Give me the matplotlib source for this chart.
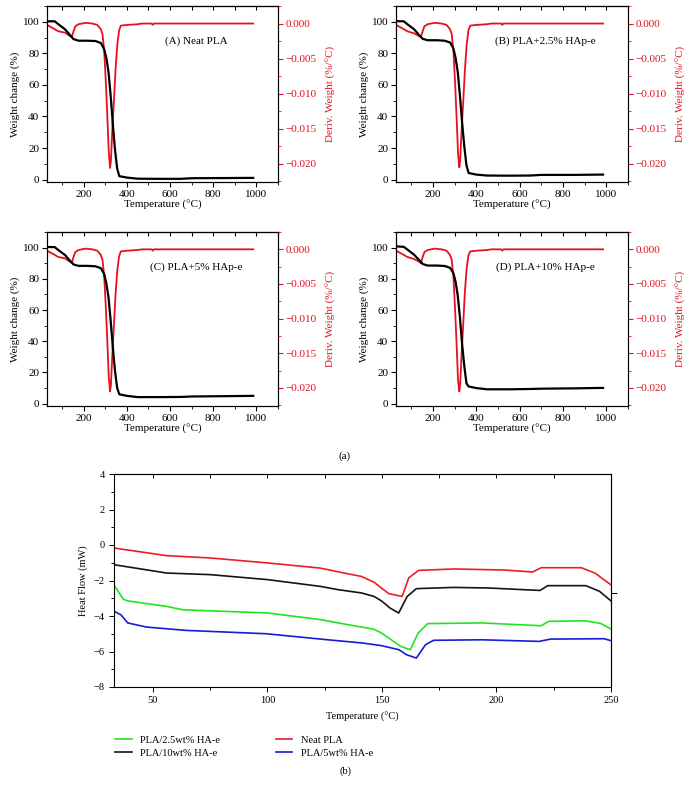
import numpy as np
import matplotlib
matplotlib.use("Agg")
import matplotlib.pyplot as plt
from matplotlib.ticker import MultipleLocator, FixedLocator

plt.rcParams['font.family'] = ['Liberation Serif', 'DejaVu Serif']
plt.rcParams['axes.unicode_minus'] = True

# ---------------- TGA data (a) ----------------
t_weight = [30, 66, 82, 113, 137, 153, 176, 220, 255, 280, 295, 305, 315, 325,
            335, 345, 355, 365, 400, 450, 550, 650, 700, 850, 985]
weight_A = [100.3, 100.3, 98.5, 95.3, 91.5, 89.0, 88.0, 88.0, 87.8, 86.5, 82.5, 77, 68, 53,
            35, 19, 7, 2.2, 1.3, 0.6, 0.5, 0.5, 0.9, 1.0, 1.1]
weight_B = [100.4, 100.3, 98.5, 95.3, 91.5, 89.2, 88.3, 88.3, 88.0, 86.8, 83.0, 77, 68, 53,
            36, 21, 9, 4.2, 3.2, 2.6, 2.5, 2.6, 3.0, 3.0, 3.2]
weight_C = [100.4, 100.3, 98.5, 95.3, 91.5, 89.2, 88.3, 88.3, 88.0, 86.8, 83.0, 77, 68, 53,
            36, 21, 10, 6.0, 5.0, 4.2, 4.2, 4.3, 4.6, 4.8, 5.0]
weight_D = [100.8, 100.5, 98.8, 95.5, 92.0, 89.5, 88.5, 88.5, 88.2, 87.0, 83.5, 78, 69, 55,
            38, 24, 13, 11.0, 10.0, 9.2, 9.2, 9.4, 9.6, 9.8, 10.1]

t_deriv = [30, 60, 82, 113, 137, 145, 153, 161, 176, 208, 240, 263, 279, 287, 295, 303,
           311, 316, 322, 326, 333, 340, 348, 356, 364, 372, 400, 450, 470, 515, 520, 525,
           600, 985]
deriv_A = [-0.0002, -0.0007, -0.0011, -0.0013, -0.0018, -0.0019, -0.0011, -0.0004, -0.0001,
           0.0001, 0.0000, -0.0002, -0.0008, -0.0015, -0.0039, -0.0087, -0.0144, -0.0182,
           -0.0206, -0.0196, -0.0149, -0.0110, -0.0063, -0.0029, -0.0010, -0.0003, -0.0002,
           -0.0001, 0.0000, 0.0000, -0.0002, 0.0000, 0.0000, 0.0000]
deriv_B = [-0.0002, -0.0007, -0.0011, -0.0014, -0.0018, -0.0019, -0.0011, -0.0004, -0.0001,
           0.0001, 0.0000, -0.0002, -0.0008, -0.0015, -0.0040, -0.0088, -0.0145, -0.0185,
           -0.0205, -0.0195, -0.0150, -0.0112, -0.0065, -0.0030, -0.0010, -0.0003, -0.0002,
           -0.0001, 0.0000, 0.0000, -0.0002, 0.0000, 0.0000, 0.0000]
deriv_C = [-0.0002, -0.0007, -0.0011, -0.0013, -0.0018, -0.0019, -0.0011, -0.0004, -0.0001,
           0.0001, 0.0000, -0.0002, -0.0008, -0.0015, -0.0039, -0.0087, -0.0144, -0.0184,
           -0.0205, -0.0196, -0.0150, -0.0110, -0.0063, -0.0029, -0.0010, -0.0003, -0.0002,
           -0.0001, 0.0000, 0.0000, -0.0002, 0.0000, 0.0000, 0.0000]
deriv_D = [-0.0002, -0.0007, -0.0011, -0.0014, -0.0018, -0.0020, -0.0011, -0.0004, -0.0001,
           0.0001, 0.0000, -0.0002, -0.0008, -0.0015, -0.0040, -0.0090, -0.0148, -0.0188,
           -0.0205, -0.0195, -0.0148, -0.0108, -0.0060, -0.0027, -0.0009, -0.0003, -0.0002,
           -0.0001, 0.0000, 0.0000, -0.0002, 0.0000, 0.0000, 0.0000]

panel_titles = ["(A) Neat PLA", "(B) PLA+2.5% HAp-e", "(C) PLA+5% HAp-e", "(D) PLA+10% HAp-e"]
weights = [weight_A, weight_B, weight_C, weight_D]
derivs = [deriv_A, deriv_B, deriv_C, deriv_D]

# ---------------- DSC data (b) ----------------
t_neat = [33, 56, 75, 100, 123, 133.5, 141, 146.6, 150, 153, 158.8, 161.7, 166, 181.4,
          203.3, 215.8, 219.5, 237, 243, 250]
hf_neat = [-0.17, -0.6, -0.73, -1.01, -1.3, -1.58, -1.77, -2.1, -2.45, -2.74, -2.9, -1.85,
           -1.43, -1.35, -1.41, -1.52, -1.28, -1.28, -1.58, -2.25]
t_10 = [33, 56, 75, 100, 123, 131, 141, 146.6, 150, 153.5, 157.3, 161, 165, 181, 196,
        219, 222.4, 239, 245, 250]
hf_10 = [-1.11, -1.58, -1.67, -1.95, -2.33, -2.52, -2.7, -2.9, -3.17, -3.55, -3.83, -2.9,
         -2.46, -2.39, -2.42, -2.56, -2.29, -2.29, -2.61, -3.15]
t_25 = [33, 37, 39, 56, 63, 100, 123, 133.5, 146.6, 149.8, 158.2, 162.4, 165.8, 170,
        193.5, 219.5, 222.8, 238.8, 245.5, 250]
hf_25 = [-2.24, -3.05, -3.15, -3.46, -3.65, -3.83, -4.2, -4.45, -4.75, -4.96, -5.71, -5.9,
         -4.96, -4.43, -4.39, -4.55, -4.3, -4.27, -4.42, -4.73]
t_5 = [33, 36, 39, 47, 64.3, 99.5, 126.3, 141.4, 149.8, 157.4, 160.7, 165, 169, 172.5,
       193.5, 218.6, 223.7, 247, 250]
hf_5 = [-3.73, -3.93, -4.39, -4.62, -4.81, -5.0, -5.34, -5.52, -5.67, -5.9, -6.18, -6.37,
        -5.62, -5.37, -5.34, -5.43, -5.3, -5.28, -5.39]

W, H = 691, 793
fig = plt.figure(figsize=(W / 100, H / 100), dpi=100)


def box(l, t, r, b):
    return [l / W, 1 - b / H, (r - l) / W, (b - t) / H]


red = "#e8101c"
fs = 8
panel_boxes = [box(47, 6, 278, 182), box(396, 6, 628, 182),
               box(47, 232, 278, 406), box(396, 232, 628, 406)]

for i in range(4):
    ax = fig.add_axes(panel_boxes[i])
    ax.plot(t_weight, weights[i], color="black", lw=1.6, zorder=3)
    ax.set_xlim(30, 1100)
    ax.set_ylim(-1.5, 110)
    ax.xaxis.set_major_locator(FixedLocator([200, 400, 600, 800, 1000]))
    ax.xaxis.set_minor_locator(MultipleLocator(100))
    ax.yaxis.set_major_locator(MultipleLocator(20))
    ax.yaxis.set_minor_locator(MultipleLocator(10))
    ax.tick_params(which="both", direction="out", labelsize=fs, pad=2)
    ax.tick_params(which="major", length=3.5)
    ax.tick_params(which="minor", length=2)
    ax.set_xlabel("Temperature (°C)", fontsize=fs, labelpad=1)
    ax.set_ylabel("Weight change (%)", fontsize=fs, labelpad=2)
    top = ax.secondary_xaxis("top")
    top.xaxis.set_major_locator(MultipleLocator(100))
    top.tick_params(direction="in", length=3, labeltop=False)

    ax2 = ax.twinx()
    ax2.plot(t_deriv, derivs[i], color=red, lw=1.3, zorder=2)
    ax2.set_ylim(-0.0226, 0.0025)
    ax2.yaxis.set_major_locator(MultipleLocator(0.005))
    ax2.yaxis.set_minor_locator(MultipleLocator(0.0025))
    ax2.yaxis.set_major_formatter(plt.FuncFormatter(lambda v, p: f"{v:.3f}".replace("-", "\u2212")))
    ax2.spines["right"].set_color(red)
    ax2.tick_params(axis="y", which="both", colors=red, labelsize=fs, pad=2, direction="out")
    ax2.tick_params(which="major", length=3.5)
    ax2.tick_params(which="minor", length=2)
    ax2.set_ylabel("Deriv. Weight (%/°C)", fontsize=fs, color=red, labelpad=7)
    ax.text(0.645, 0.80, panel_titles[i], transform=ax.transAxes, fontsize=fs,
            ha="center", va="center")
    ax.set_zorder(ax2.get_zorder() + 1)
    ax.patch.set_visible(False)

fig.text(345 / W, 1 - 456 / H, "(a)", fontsize=fs, ha="center", va="center")

# ---------------- DSC panel ----------------
fs2 = 7.5
bx = fig.add_axes(box(114, 474, 611, 687))
l1, = bx.plot(t_25, hf_25, color="#1ee61e", lw=1.2, label="PLA/2.5wt% HA-e")
l2, = bx.plot(t_10, hf_10, color="#141414", lw=1.2, label="PLA/10wt% HA-e")
l3, = bx.plot(t_neat, hf_neat, color="#ee1c24", lw=1.2, label="Neat PLA")
l4, = bx.plot(t_5, hf_5, color="#1a1ad8", lw=1.2, label="PLA/5wt% HA-e")
bx.set_xlim(33, 250)
bx.set_ylim(-8, 4)
bx.xaxis.set_major_locator(MultipleLocator(50))
bx.xaxis.set_minor_locator(MultipleLocator(25))
bx.yaxis.set_major_locator(MultipleLocator(2))
bx.yaxis.set_minor_locator(MultipleLocator(1))
bx.tick_params(which="both", direction="out", labelsize=fs2, pad=3, width=0.7)
bx.tick_params(which="major", length=3.5)
bx.tick_params(which="minor", length=2)
for s in bx.spines.values():
    s.set_linewidth(0.8)
bx.set_xlabel("Temperature (°C)", fontsize=fs2, labelpad=5)
bx.set_ylabel("Heat Flow (mW)", fontsize=fs2, labelpad=4)
btop = bx.secondary_xaxis("top")
btop.xaxis.set_major_locator(MultipleLocator(25))
btop.tick_params(direction="in", length=3, labeltop=False, width=0.7)
bright = bx.secondary_yaxis("right")
bright.yaxis.set_major_locator(FixedLocator([-2.7]))
bright.tick_params(direction="out", length=4, labelright=False, width=0.7)

fig.legend(handles=[l1, l2, l3, l4], ncol=2, loc="upper left",
           bbox_to_anchor=(106 / W, 1 - 726 / H), frameon=False, fontsize=fs2,
           handlelength=1.6, handletextpad=0.8, columnspacing=5.3, labelspacing=0.35)
fig.text(345 / W, 1 - 771 / H, "(b)", fontsize=fs2, ha="center", va="center")

fig.savefig("out.png", dpi=100)
